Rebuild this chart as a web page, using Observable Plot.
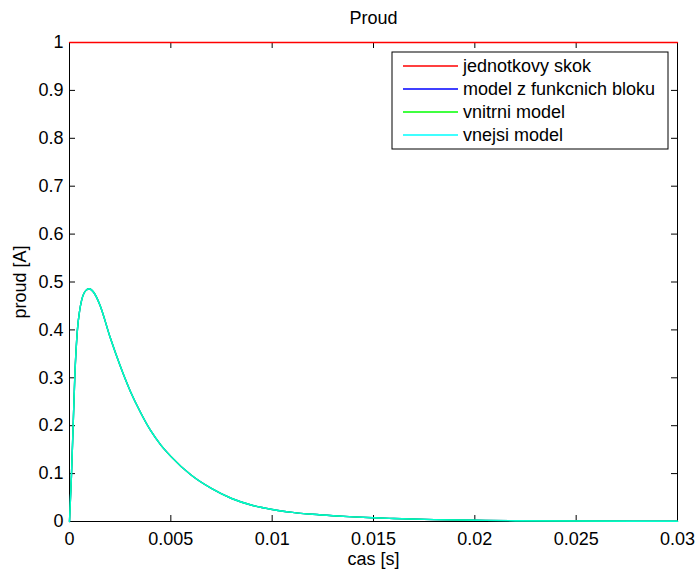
<!DOCTYPE html>
<html>
<head>
<meta charset="utf-8">
<script src="https://cdn.jsdelivr.net/npm/d3@7"></script>
<script src="https://cdn.jsdelivr.net/npm/@observablehq/plot@0.6"></script>
<style>
  html, body { margin: 0; padding: 0; background: #fff; }
  #chart { width: 697px; height: 570px; }
</style>
</head>
<body>
<div id="chart"></div>
<script>
// ---- data ----
const titleText = "Proud";
const xLabelText = "cas [s]";
const yLabelText = "proud [A]";

const xTicks = [0, 0.005, 0.01, 0.015, 0.02, 0.025, 0.03];
const xTickLabels = ["0", "0.005", "0.01", "0.015", "0.02", "0.025", "0.03"];
const yTicks = [0, 0.1, 0.2, 0.3, 0.4, 0.5, 0.6, 0.7, 0.8, 0.9, 1];
const yTickLabels = ["0", "0.1", "0.2", "0.3", "0.4", "0.5", "0.6", "0.7", "0.8", "0.9", "1"];

// unit step (jednotkovy skok)
const stepT = [0, 0.03];
const stepI = [1, 1];

// current response (all three models overlap)
const respT = [0, 0.00005, 0.0001, 0.00018, 0.00026, 0.00039, 0.0005, 0.0006, 0.0008, 0.00097,
  0.0012, 0.0015, 0.002, 0.0025, 0.003, 0.0035, 0.004, 0.0045, 0.005, 0.006, 0.007,
  0.008, 0.009, 0.01, 0.011, 0.012, 0.013, 0.014, 0.015, 0.016, 0.018, 0.02, 0.022, 0.025, 0.028, 0.03];
const respI = [0, 0.05, 0.10, 0.20, 0.30, 0.40, 0.44, 0.462, 0.482, 0.486,
  0.478, 0.452, 0.385, 0.325, 0.272, 0.228, 0.19, 0.16, 0.136, 0.097, 0.069,
  0.048, 0.034, 0.025, 0.019, 0.015, 0.012, 0.0096, 0.0077, 0.0062, 0.004, 0.0026, 0.0017, 0.0010, 0.0006, 0.0004];

const legendLabels = ["jednotkovy skok", "model z funkcnich bloku", "vnitrni model", "vnejsi model"];
const legendColors = ["#ff0000", "#0000ff", "#00ff00", "#00ffff"];

// ---- build ----
const stepData = stepT.map((t, i) => ({t, v: stepI[i]}));
const respData = respT.map((t, i) => ({t, v: respI[i]}));

const W = 697, H = 570;
const mL = 69, mR = 20, mT = 42, mB = 49;
const innerH = H - mT - mB;
const innerW = W - mL - mR;
const tickLen = 6;
const font = "'Liberation Sans', Arial, Helvetica, sans-serif";

const chart = Plot.plot({
  width: W,
  height: H,
  marginLeft: mL,
  marginRight: mR,
  marginTop: mT,
  marginBottom: mB,
  style: {fontFamily: font, fontSize: "18px", background: "#fff", color: "#000"},
  x: {domain: [0, 0.03], axis: null},
  y: {domain: [0, 1], axis: null},
  marks: [
    Plot.frame({stroke: "#000", strokeWidth: 1}),
    // inward ticks on all four sides
    Plot.tickX(xTicks, {x: d => d, insetTop: innerH - tickLen, stroke: "#000"}),
    Plot.tickX(xTicks, {x: d => d, insetBottom: innerH - tickLen, stroke: "#000"}),
    Plot.tickY(yTicks, {y: d => d, insetRight: innerW - tickLen, stroke: "#000"}),
    Plot.tickY(yTicks, {y: d => d, insetLeft: innerW - tickLen, stroke: "#000"}),
    Plot.axisX({ticks: xTicks, tickFormat: d => xTickLabels[xTicks.indexOf(d)], tickSize: 0, tickPadding: 11, label: null, fontSize: 18}),
    Plot.axisY({ticks: yTicks, tickFormat: d => yTickLabels[yTicks.indexOf(d)], tickSize: 0, tickPadding: 6, label: null, fontSize: 18}),
    // data lines
    Plot.line(respData, {x: "t", y: "v", stroke: legendColors[1], strokeWidth: 1.4, curve: "monotone-x"}),
    Plot.line(respData, {x: "t", y: "v", stroke: legendColors[2], strokeWidth: 1.4, curve: "monotone-x"}),
    Plot.line(respData, {x: "t", y: "v", stroke: legendColors[3], strokeWidth: 1.4, strokeOpacity: 0.8, curve: "monotone-x"}),
    Plot.line(stepData, {x: "t", y: "v", stroke: legendColors[0], strokeWidth: 1.3}),
    // title and axis labels
    Plot.text([titleText], {frameAnchor: "top", lineAnchor: "middle", textAnchor: "middle", dy: -24, fontSize: 18, fill: "#000"}),
    Plot.text([xLabelText], {frameAnchor: "bottom", lineAnchor: "middle", textAnchor: "middle", dy: 38, fontSize: 18, fill: "#000"}),
    Plot.text([yLabelText], {frameAnchor: "left", lineAnchor: "middle", textAnchor: "middle", dx: -49, rotate: -90, fontSize: 18, fill: "#000"})
  ]
});

document.getElementById("chart").appendChild(chart);

// legend box inside the axes (top right)
const svg = d3.select(chart);
const lg = svg.append("g").attr("font-family", font).attr("font-size", 18).attr("text-anchor", "start");
const boxX = 392, boxY = 52, boxW = 276, boxH = 97;
lg.append("rect").attr("x", boxX).attr("y", boxY).attr("width", boxW).attr("height", boxH)
  .attr("fill", "#fff").attr("stroke", "#000").attr("stroke-width", 1);
legendLabels.forEach((lab, i) => {
  const yy = 66 + i * 23;
  lg.append("line").attr("x1", 403).attr("x2", 458).attr("y1", yy).attr("y2", yy)
    .style("stroke", legendColors[i]).style("stroke-width", "1.4px");
  lg.append("text").attr("x", 463).attr("y", yy).attr("dy", "0.35em").attr("fill", "#000")
    .attr("text-anchor", "start").text(lab);
});
</script>
</body>
</html>
